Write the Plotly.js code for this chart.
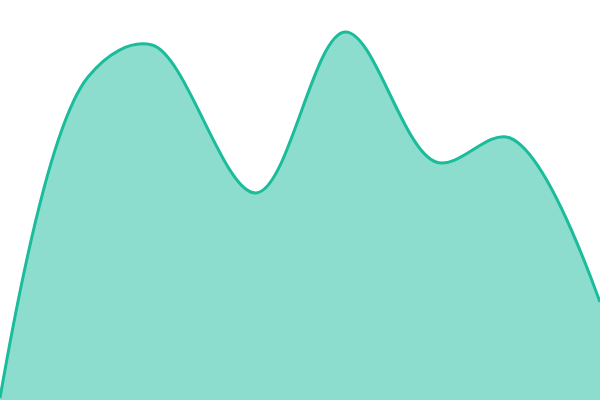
<!DOCTYPE html>
<html>
<head>
<meta charset="utf-8">
<script src="https://cdn.plot.ly/plotly-3.0.1.min.js"></script>
<style>
  html, body { margin: 0; padding: 0; background: #fff; }
  #chart { width: 600px; height: 400px; }
</style>
</head>
<body>
<div id="chart"></div>
<script>
// points along the curve
const xs = [0, 88, 152, 256, 345, 436, 510, 600];
const ys = [2, 323, 355, 207, 368, 238, 262, 98];

const trace = {
    x: xs,
    y: ys,
    type: "scatter",
    mode: "lines",
    fill: "tozeroy",
    fillcolor: "rgba(26,188,156,0.5)",
    line: { color: "#1abc9c", width: 3, shape: "spline", smoothing: 1 },
    hoverinfo: "none"
};

const layout = {
    width: 600,
    height: 400,
    margin: { t: 0, r: 0, l: 0, b: 0 },
    showlegend: false,
    paper_bgcolor: "#fff",
    plot_bgcolor: "#fff",
    xaxis: { visible: false, range: [0, 600], fixedrange: true },
    yaxis: { visible: false, range: [0, 400], fixedrange: true }
};

Plotly.newPlot("chart", [trace], layout, { staticPlot: true });
</script>
</body>
</html>
